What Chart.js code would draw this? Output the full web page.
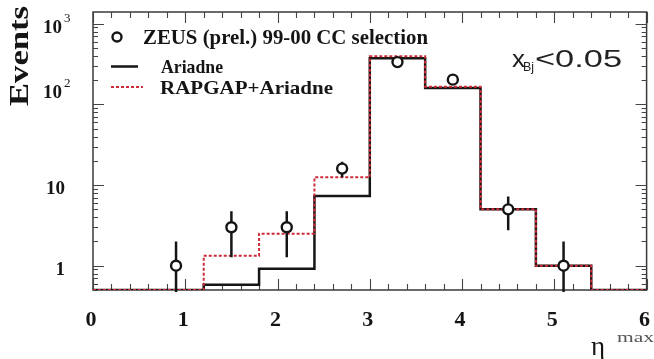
<!DOCTYPE html>
<html>
<head>
<meta charset="utf-8">
<script src="https://cdn.jsdelivr.net/npm/chart.js@4.4.1/dist/chart.umd.min.js"></script>
<style>
  html, body { margin: 0; padding: 0; background: #fff; }
  #wrap { width: 654px; height: 359px; }
</style>
</head>
<body>
<div id="wrap"><canvas id="c" width="654" height="359"></canvas></div>
<script>
// eta_max histogram bins (edges) and the two MC predictions per bin
const binEdges = [0, 0.6, 1.2, 1.8, 2.4, 3.0, 3.6, 4.2, 4.8, 5.4, 6.0];
const ariadne = [0, 0, 0.58, 0.92, 7.3, 375, 160, 5.0, 1.0, 0];
const rapgapAriadne = [0, 0, 1.33, 2.5, 12.5, 395, 166, 5.0, 1.0, 0];

// measured events with their errors
const dataEta = [0.9, 1.5, 2.1, 2.7, 3.3, 3.9, 4.5, 5.1];
const dataEvents = [1, 3, 3, 16, 335, 203, 5, 1];
const dataErrors = [1, 1.73, 1.73, 3.5, 18.3, 14.2, 2.24, 1];

// axis ticks
const xTickValues = [0, 1, 2, 3, 4, 5, 6];
const xTickLabels = ['0', '1', '2', '3', '4', '5', '6'];
const yTickValues = [1, 10, 100, 1000];
const yTickBase = ['1', '10', '10', '10'];
const yTickExp = ['', '', '2', '3'];

const legendLabels = ['ZEUS (prel.) 99-00 CC selection', 'Ariadne', 'RAPGAP+Ariadne'];

const Y_MIN = 0.5, Y_MAX = 1400;
const X_MIN = 0, X_MAX = 6;
const RED = '#cc2b38';
const INK = '#151515';
const SERIF = '"Liberation Serif", "DejaVu Serif", serif';
const SANS = '"Liberation Sans", Arial, sans-serif';

// histogram contents become step points at the bin edges (empty bins sit on the axis floor)
function stepPoints(contents) {
  return binEdges.map((x, i) => ({
    x: x,
    y: Math.max(contents[Math.min(i, contents.length - 1)], Y_MIN)
  }));
}

// text squeezed or stretched horizontally to a given width, left edge at x
function textToWidth(ctx, text, x, y, font, width) {
  ctx.save();
  ctx.font = font;
  ctx.textAlign = 'left';
  const w = ctx.measureText(text).width;
  ctx.translate(x, y);
  ctx.scale(width / w, 1);
  ctx.fillText(text, 0, 0);
  ctx.restore();
}

function drawErrorBars(chart) {
  const xs = chart.scales.x, ys = chart.scales.y, ctx = chart.ctx, a = chart.chartArea;
  ctx.save();
  ctx.beginPath();
  ctx.rect(a.left, a.top - 2, a.right - a.left, a.bottom - a.top + 4);
  ctx.clip();
  ctx.strokeStyle = INK;
  ctx.lineWidth = 2.5;
  dataEta.forEach((x, i) => {
    const lo = Math.max(dataEvents[i] - dataErrors[i], Y_MIN * 0.9);
    const hi = dataEvents[i] + dataErrors[i];
    const px = xs.getPixelForValue(x);
    ctx.beginPath();
    ctx.moveTo(px, ys.getPixelForValue(hi));
    ctx.lineTo(px, ys.getPixelForValue(lo));
    ctx.stroke();
  });
  ctx.restore();
}

function drawFrameAndTicks(chart) {
  const xs = chart.scales.x, ys = chart.scales.y, ctx = chart.ctx, a = chart.chartArea;
  ctx.save();
  ctx.strokeStyle = '#3a3a3a';
  ctx.lineWidth = 1.5;
  ctx.strokeRect(a.left, a.top, a.right - a.left, a.bottom - a.top);

  ctx.lineWidth = 1.1;
  ctx.strokeStyle = '#444';
  // x ticks: every 0.2, long at integers, on bottom and top edges
  for (let k = 0; k <= 30; k++) {
    const v = k * 0.2;
    const px = Math.round(xs.getPixelForValue(v)) + 0.5;
    const len = (k % 5 === 0) ? 11 : 6;
    ctx.beginPath();
    ctx.moveTo(px, a.bottom); ctx.lineTo(px, a.bottom - len);
    ctx.moveTo(px, a.top); ctx.lineTo(px, a.top + len);
    ctx.stroke();
  }
  // y ticks: decades long, 2..9 short, on left and right edges
  for (let d = -1; d <= 3; d++) {
    for (let m = 1; m <= 9; m++) {
      const v = m * Math.pow(10, d);
      if (v < Y_MIN || v > Y_MAX) continue;
      const py = Math.round(ys.getPixelForValue(v)) + 0.5;
      const len = (m === 1) ? 11 : 5;
      ctx.beginPath();
      ctx.moveTo(a.left, py); ctx.lineTo(a.left + len, py);
      ctx.moveTo(a.right, py); ctx.lineTo(a.right - len, py);
      ctx.stroke();
    }
  }
  ctx.restore();
}

function drawLabels(chart) {
  const xs = chart.scales.x, ys = chart.scales.y, ctx = chart.ctx, a = chart.chartArea;
  ctx.save();
  ctx.fillStyle = INK;

  // x tick labels
  ctx.font = 'bold 22px ' + SERIF;
  ctx.textAlign = 'center';
  ctx.textBaseline = 'alphabetic';
  xTickValues.forEach((v, i) => {
    ctx.fillText(xTickLabels[i], xs.getPixelForValue(v) - 2, a.bottom + 36);
  });

  // y tick labels with exponents (the 10^2 label sits a little above its tick)
  yTickValues.forEach((v, i) => {
    let py = ys.getPixelForValue(v);
    if (v === 100) py -= 15;
    ctx.font = 'bold 19px ' + SERIF;
    ctx.textAlign = 'right';
    const baseRight = yTickExp[i] ? 62 : 65;
    ctx.fillText(yTickBase[i], baseRight, py + 9);
    if (yTickExp[i]) {
      ctx.font = '13px ' + SERIF;
      ctx.textAlign = 'left';
      ctx.fillText(yTickExp[i], baseRight + 2, py - 2);
    }
  });

  // y axis title
  ctx.save();
  ctx.translate(28, 106);
  ctx.rotate(-Math.PI / 2);
  textToWidth(ctx, 'Events', 0, 0, 'bold 28px ' + SERIF, 100);
  ctx.restore();

  // x axis title: eta with superscript "max"
  ctx.font = '27px ' + SERIF;
  ctx.textAlign = 'left';
  ctx.fillText('\u03b7', 591, 355);
  ctx.fillStyle = '#555';
  textToWidth(ctx, 'max', 617, 342, '15px ' + SERIF, 37);

  // x_Bj < 0.05 annotation
  ctx.fillStyle = '#222';
  textToWidth(ctx, 'x', 512, 67, '23px ' + SANS, 13);
  textToWidth(ctx, 'Bj', 523, 71, '12px ' + SANS, 11);
  textToWidth(ctx, '<0.05', 535, 67, '23px ' + SANS, 87);

  // legend
  ctx.fillStyle = INK;
  ctx.beginPath();
  ctx.arc(117, 37, 4.5, 0, Math.PI * 2);
  ctx.lineWidth = 2.4;
  ctx.strokeStyle = INK;
  ctx.stroke();
  textToWidth(ctx, legendLabels[0], 143, 44, 'bold 20px ' + SERIF, 285);

  ctx.beginPath();
  ctx.moveTo(111, 66.5); ctx.lineTo(138, 66.5);
  ctx.lineWidth = 2.5;
  ctx.stroke();
  textToWidth(ctx, legendLabels[1], 161, 73, 'bold 19px ' + SERIF, 62);

  ctx.beginPath();
  ctx.setLineDash([3, 2]);
  ctx.strokeStyle = RED;
  ctx.lineWidth = 2;
  ctx.moveTo(111, 87); ctx.lineTo(143, 87);
  ctx.stroke();
  ctx.setLineDash([]);
  textToWidth(ctx, legendLabels[2], 160, 94, 'bold 19px ' + SERIF, 173);

  ctx.restore();
}

const decor = {
  id: 'decor',
  beforeDatasetsDraw(chart) { drawFrameAndTicks(chart); },
  beforeDatasetDraw(chart, args) { if (args.index === 0) drawErrorBars(chart); },
  afterDraw(chart) { drawLabels(chart); }
};

new Chart(document.getElementById('c'), {
  data: {
    datasets: [
      {
        type: 'scatter',
        label: legendLabels[0],
        data: dataEta.map((x, i) => ({ x: x, y: dataEvents[i] })),
        pointRadius: 5,
        pointBorderWidth: 2.4,
        borderColor: INK,
        backgroundColor: '#fff',
        order: 0
      },
      {
        type: 'line',
        label: legendLabels[2],
        data: stepPoints(rapgapAriadne),
        stepped: 'before',
        borderColor: RED,
        borderWidth: 2,
        borderDash: [3, 2],
        pointRadius: 0,
        fill: false,
        order: 1
      },
      {
        type: 'line',
        label: legendLabels[1],
        data: stepPoints(ariadne),
        stepped: 'before',
        borderColor: INK,
        borderWidth: 2.5,
        pointRadius: 0,
        fill: false,
        order: 2
      }
    ]
  },
  options: {
    responsive: false,
    animation: false,
    events: [],
    layout: { padding: { left: 93, right: 2, top: 12, bottom: 69 } },
    plugins: { legend: { display: false }, tooltip: { enabled: false } },
    scales: {
      x: { type: 'linear', min: X_MIN, max: X_MAX, display: false },
      y: { type: 'logarithmic', min: Y_MIN, max: Y_MAX, display: false }
    }
  },
  plugins: [decor]
});
</script>
</body>
</html>
